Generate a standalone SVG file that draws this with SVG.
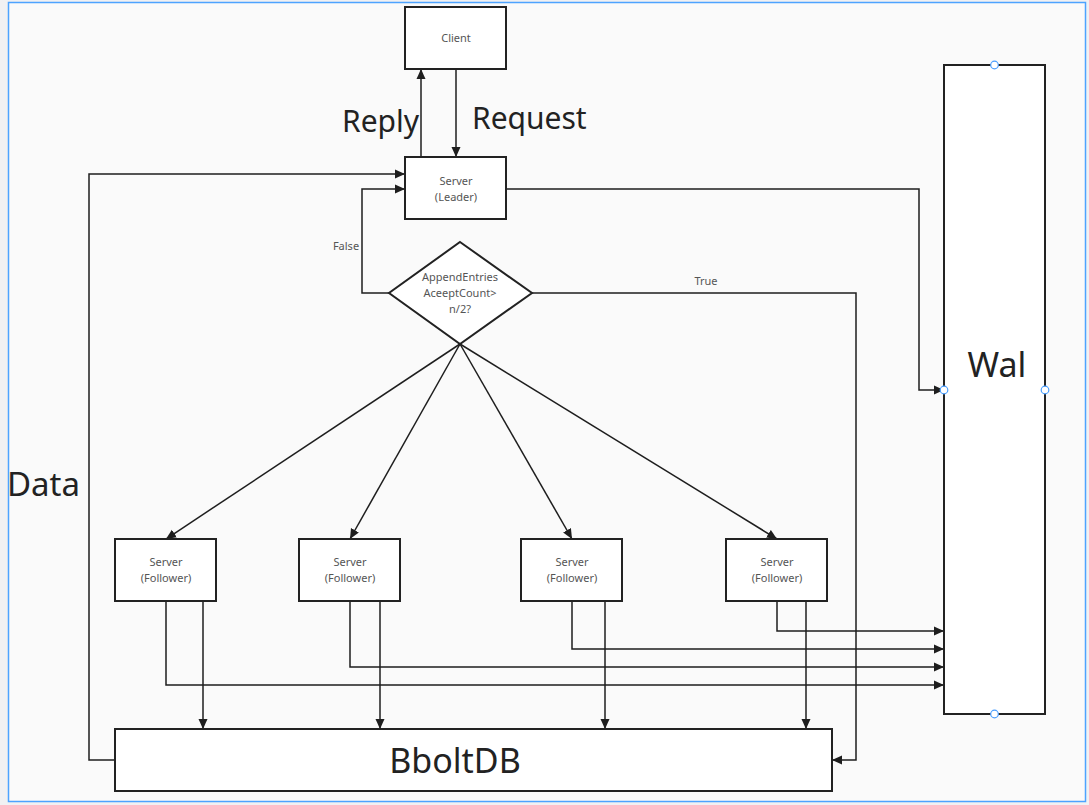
<svg xmlns="http://www.w3.org/2000/svg" width="1089" height="805" viewBox="0 0 1089 805">
<defs>
<marker id="ah" viewBox="0 0 10 10" refX="10" refY="5" markerWidth="10" markerHeight="10" markerUnits="userSpaceOnUse" orient="auto">
<path d="M0,0.5 L10,5 L0,9.5 Z" fill="#1e1e1e"/>
</marker>
<style>
.node{fill:#fff;stroke:#222;stroke-width:2}
.lbl{font-family:"Noto Sans","Liberation Sans",sans-serif;font-size:11px;fill:#555;text-anchor:middle}
.big{font-family:"Noto Sans","Liberation Sans",sans-serif;font-size:34px;fill:#222;text-anchor:middle}
.med{font-family:"Noto Sans","Liberation Sans",sans-serif;font-size:30px;fill:#222}
.edge{fill:none;stroke:#1e1e1e;stroke-width:1.5}
.arr{marker-end:url(#ah)}
.hdl{fill:#fff;stroke:#4a9eff;stroke-width:1.2}
</style>
</defs>
<rect x="0" y="0" width="1089" height="805" fill="#f1f1f3"/>
<rect x="8.5" y="2.5" width="1077" height="799" fill="#fafafa" stroke="#4da3ff" stroke-width="1.5"/>

<g id="connectors">
<path class="edge arr" d="M421,157 V69"/>
<path class="edge arr" d="M456,69 V157"/>
<path class="edge arr" d="M115,760 H89 V174 H405"/>
<path class="edge arr" d="M389,293 H362 V189 H405"/>
<path class="edge arr" d="M532,293 H856 V760 H832"/>
<path class="edge arr" d="M506,189 H919 V390 H944"/>
<path class="edge arr" d="M460,344 L166,539"/>
<path class="edge arr" d="M460,344 L350,539"/>
<path class="edge arr" d="M460,344 L572,539"/>
<path class="edge arr" d="M460,344 L777,539"/>
<path class="edge arr" d="M166,601 V685 H944"/>
<path class="edge arr" d="M203,601 V729"/>
<path class="edge arr" d="M350,601 V667 H944"/>
<path class="edge arr" d="M380,601 V729"/>
<path class="edge arr" d="M572,601 V649 H944"/>
<path class="edge arr" d="M605,601 V729"/>
<path class="edge arr" d="M777,601 V631 H944"/>
<path class="edge arr" d="M806,601 V729"/>
</g>

<g id="edge-labels">
<text class="med" x="342" y="132">Reply</text>
<text class="med" x="472" y="129">Request</text>
<text x="7" y="496" style="font-family:'Noto Sans','Liberation Sans',sans-serif;font-size:33px;fill:#222">Data</text>
<text class="lbl" x="346" y="250">False</text>
<text class="lbl" x="706" y="285">True</text>
</g>

<g id="client">
<rect class="node" x="405" y="7" width="101" height="62"/>
<text class="lbl" x="456" y="42">Client</text>
</g>

<g id="leader">
<rect class="node" x="405" y="157" width="101" height="62"/>
<text class="lbl" x="456" y="185">Server</text>
<text class="lbl" x="456" y="201">(Leader)</text>
</g>

<g id="decision">
<polygon class="node" points="460,242 532,293 460,344 389,293"/>
<text class="lbl" x="460" y="281">AppendEntries</text>
<text class="lbl" x="460" y="297">AceeptCount&gt;</text>
<text class="lbl" x="460" y="313">n/2?</text>
</g>

<g id="follower1">
<rect class="node" x="115" y="539" width="101" height="62"/>
<text class="lbl" x="166" y="566">Server</text>
<text class="lbl" x="166" y="582">(Follower)</text>
</g>
<g id="follower2">
<rect class="node" x="299" y="539" width="101" height="62"/>
<text class="lbl" x="350" y="566">Server</text>
<text class="lbl" x="350" y="582">(Follower)</text>
</g>
<g id="follower3">
<rect class="node" x="521" y="539" width="101" height="62"/>
<text class="lbl" x="572" y="566">Server</text>
<text class="lbl" x="572" y="582">(Follower)</text>
</g>
<g id="follower4">
<rect class="node" x="726" y="539" width="101" height="62"/>
<text class="lbl" x="777" y="566">Server</text>
<text class="lbl" x="777" y="582">(Follower)</text>
</g>

<g id="bboltdb">
<rect class="node" x="115" y="729" width="717" height="62"/>
<text class="big" x="455" y="773">BboltDB</text>
</g>

<g id="wal">
<rect class="node" x="944" y="65" width="101" height="649"/>
<text class="big" x="997" y="377">Wal</text>
<circle class="hdl" cx="994.5" cy="65" r="3.8"/>
<circle class="hdl" cx="944" cy="390" r="3.8"/>
<circle class="hdl" cx="1045" cy="390" r="3.8"/>
<circle class="hdl" cx="994.5" cy="714" r="3.8"/>
</g>
</svg>
